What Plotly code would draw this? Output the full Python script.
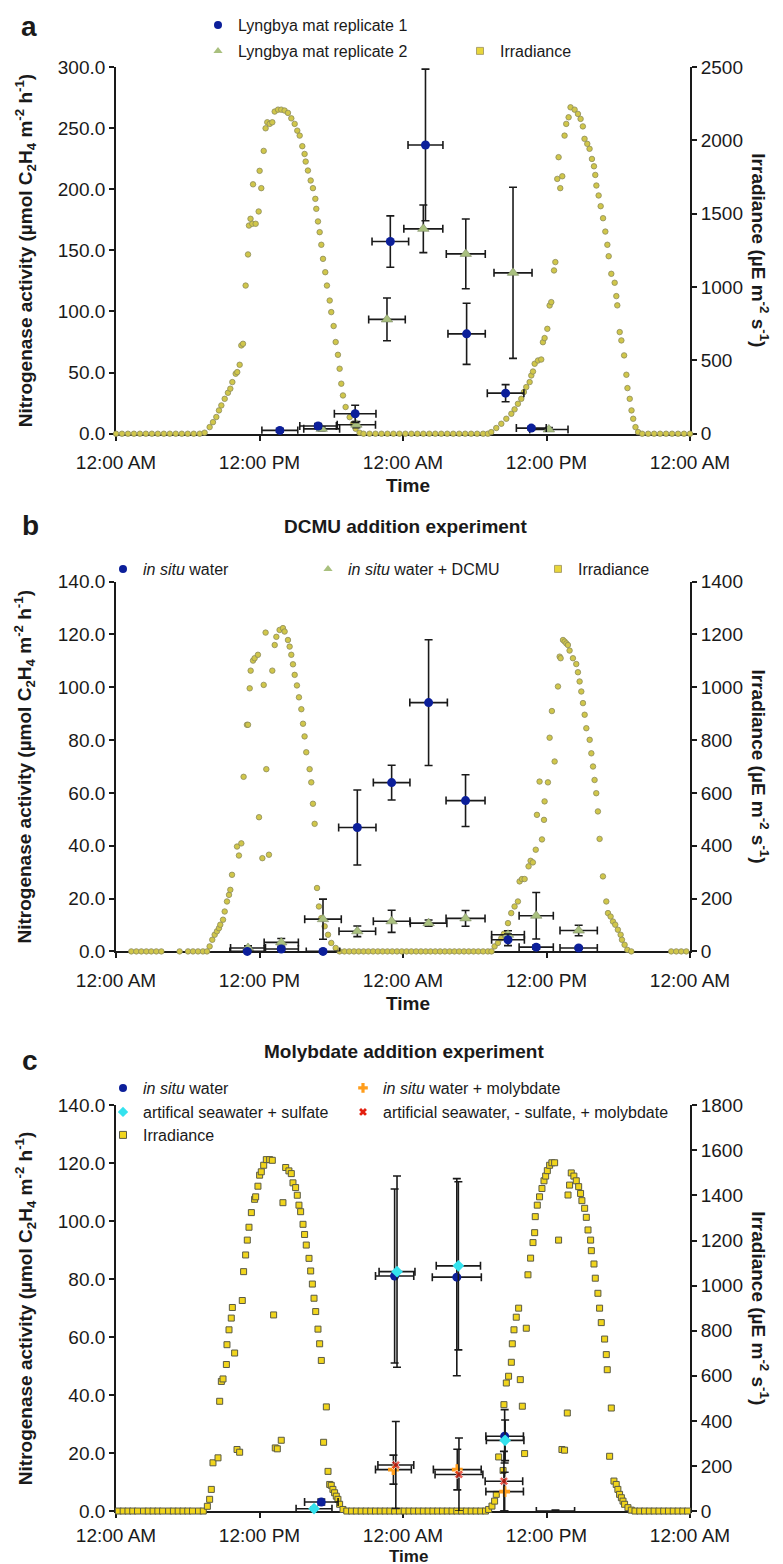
import plotly.graph_objects as go

W, H = 783, 1564
FONT = "Liberation Sans, Arial, sans-serif"
INK = "#1a1a1a"

time_ticks = [0, 12, 24, 36, 48]
time_labels = ["12:00 AM", "12:00 PM", "12:00 AM", "12:00 PM", "12:00 AM"]

# ---------------- panel a ----------------
a_irr_t = [0.0, 0.5, 1.0, 1.5, 2.0, 2.5, 3.0, 3.5, 4.0, 4.5, 5.0, 5.5, 6.0, 6.5, 7.0,
           7.41, 7.83, 8.11, 8.39, 8.61, 8.81, 9.09, 9.36, 9.56, 9.73,
           10.01, 10.14, 10.34, 10.48, 10.62, 10.84, 11.04, 11.12, 11.25, 11.40,
           11.46, 11.68, 11.93, 12.01, 12.15, 12.35, 12.51, 12.65, 12.85, 13.07,
           13.27, 13.55, 13.82, 14.10, 14.38, 14.66, 14.94, 15.16, 15.36, 15.58,
           15.77, 15.86, 16.05, 16.28, 16.47, 16.67, 16.75, 16.89, 17.03, 17.17,
           17.31, 17.50, 17.64, 17.87, 18.00, 18.20, 18.37, 18.56, 18.70, 18.84,
           18.98, 19.20, 19.54, 19.82, 20.04, 20.37,
           20.7, 21.2, 21.7, 22.2, 22.7, 23.2, 23.7, 24.2, 24.7, 25.2, 25.7, 26.2,
           26.7, 27.2, 27.7, 28.2, 28.7, 29.2, 29.7, 30.2, 30.7, 31.1,
           31.38, 31.80, 32.22, 32.64, 33.06, 33.33, 33.61, 33.89, 34.11, 34.31,
           34.59, 34.73, 34.87, 35.01, 35.29, 35.56, 35.70, 35.84, 36.07, 36.26,
           36.40, 36.63, 36.74, 36.90, 37.01, 37.15, 37.32, 37.51, 37.65, 37.85,
           38.01, 38.35, 38.63, 38.85, 39.04, 39.18, 39.41, 39.60, 39.80, 39.97,
           40.08, 40.17, 40.36, 40.53, 40.73, 40.92, 41.09, 41.20, 41.42, 41.70,
           41.84, 41.92, 42.12, 42.26, 42.49, 42.68, 42.77, 42.96, 43.11, 43.25,
           43.44, 43.66,
           44.0, 44.5, 45.0, 45.5, 46.0, 46.5, 47.0, 47.5, 48.0]
a_irr_v = [0, 0, 0, 0, 0, 0, 0, 0, 0, 0, 0, 0, 0, 0, 0,
           7, 45, 79, 114, 159, 193, 238, 279, 307, 352,
           409, 420, 470, 602, 613, 1010, 1222, 1419, 1465, 1431,
           1700, 1431, 1515, 1792, 1674, 1928, 2082, 2123, 2112, 2123,
           2196, 2209, 2209, 2203, 2187, 2150, 2112, 2066, 2032, 1960,
           1907, 1855, 1794, 1726, 1674, 1601, 1533, 1447, 1374, 1288,
           1192, 1101, 1010, 908, 829, 734, 625, 538, 443, 341,
           261, 182, 113, 68, 34, 7,
           0, 0, 0, 0, 0, 0, 0, 0, 0, 0, 0, 0,
           0, 0, 0, 0, 0, 0, 0, 0, 0, 0,
           11, 39, 68, 102, 136, 166, 204, 238, 284, 318,
           352, 397, 424, 477, 499, 506, 624, 652, 715, 874,
           897, 1113, 1170, 1737, 1885, 1674, 1755, 2032, 2112, 2157,
           2225, 2209, 2180, 2146, 2095, 2010, 1976, 1942, 1873, 1823,
           1764, 1692, 1624, 1551, 1469, 1378, 1288, 1210, 1090, 1029,
           938, 875, 693, 636, 534, 402, 311, 238, 159, 102,
           45, 11,
           0, 0, 0, 0, 0, 0, 0, 0, 0]

a_rep1_t = [13.7, 16.9, 20.0, 22.94, 25.88, 29.32, 32.58, 34.73]
a_rep1_v = [2.7, 6.3, 16.3, 157.2, 236.2, 81.7, 33.2, 4.6]
a_rep1_ey = [1.5, 2.0, 7.0, 21.0, 62.0, 25.0, 7.0, 1.5]
a_rep1_ex = [1.5, 1.53, 1.74, 1.53, 1.46, 1.56, 1.53, 1.25]

a_rep2_t = [13.6, 17.2, 20.1, 22.66, 25.7, 29.25, 33.2, 36.2]
a_rep2_v = [-3.5, 4.0, 7.4, 93.5, 167.6, 147.1, 131.6, 3.5]
a_rep2_ey = [2.5, 1.5, 2.5, 17.5, 19.5, 28.5, 70.0, 1.5]
a_rep2_ex = [1.6, 1.5, 1.6, 1.53, 1.63, 1.63, 1.59, 1.6]

# ---------------- panel b ----------------
b_irr_t = [1.28, 1.70, 2.12, 2.54, 2.95, 3.37, 3.79, 5.32, 6.02, 6.44, 6.86, 7.27, 7.61,
           7.83, 8.05, 8.25, 8.44, 8.61, 8.72, 8.95, 9.09, 9.28, 9.45,
           9.56, 9.70, 10.12, 10.28, 10.48, 10.67, 10.95, 11.04, 11.18, 11.26,
           11.46, 11.59, 11.87, 11.96, 12.24, 12.35, 12.51, 12.57, 12.79, 13.07,
           13.27, 13.41, 13.68, 13.96, 14.10, 14.38, 14.52, 14.66, 14.80, 14.94,
           15.13, 15.30, 15.50, 15.64, 15.77, 15.91, 16.19, 16.33, 16.47, 16.61,
           16.81, 16.97, 17.17, 17.45, 17.73, 18.00, 18.37, 18.70,
           19.1, 19.5, 19.9, 20.3, 20.7, 21.1, 21.5, 21.9, 22.3, 22.7, 23.1, 23.5,
           23.9, 24.3, 24.7, 25.1, 25.5, 25.9, 26.3, 26.7, 27.1, 27.5, 27.9, 28.3,
           28.7, 29.1, 29.5, 29.9, 30.3, 30.7, 31.1, 31.4,
           31.66, 31.94, 32.22, 32.44, 32.78, 33.05, 33.33, 33.61, 33.75, 33.95,
           34.17, 34.50, 34.67, 34.86, 35.10, 35.20, 35.42, 35.62, 35.79, 35.84,
           36.12, 36.26, 36.45, 36.68, 36.96, 37.10, 37.18, 37.38, 37.52, 37.66,
           37.79, 37.93, 38.21, 38.49, 38.63, 38.77, 38.91, 39.05, 39.19, 39.33,
           39.61, 39.75, 39.89, 40.02, 40.16, 40.30, 40.44, 40.72, 41.00, 41.14,
           41.36, 41.56, 41.75, 41.97, 42.20, 42.31, 42.53, 42.76, 43.09,
           46.43, 46.85, 47.27, 47.69]
b_irr_v = [0, 0, 0, 0, 0, 0, 0, 0, 0, 0, 0, 0, 0,
           19, 44, 63, 76, 88, 101, 120, 151, 189, 214,
           233, 290, 397, 363, 409, 661, 858, 858, 996, 1063,
           1101, 1110, 1123, 508, 353, 1009, 1207, 690, 366, 1063,
           1160, 1191, 1217, 1224, 1211, 1179, 1154, 1123, 1087, 1047,
           1007, 962, 917, 862, 814, 754, 690, 640, 559, 483,
           240, 170, 126, 95, 63, 32, 13, 0,
           0, 0, 0, 0, 0, 0, 0, 0, 0, 0, 0, 0,
           0, 0, 0, 0, 0, 0, 0, 0, 0, 0, 0, 0,
           0, 0, 0, 0, 0, 0, 0, 0,
           19, 32, 50, 67, 107, 145, 170, 189, 265, 274,
           274, 322, 343, 337, 385, 517, 643, 424, 498, 568,
           640, 809, 910, 719, 1003, 1116, 1110, 1179, 1173, 1166,
           1160, 1139, 1110, 1088, 1057, 1022, 984, 940, 896, 845,
           801, 750, 700, 649, 599, 530, 426, 284, 189, 145,
           132, 113, 101, 82, 63, 44, 25, 6, 0,
           0, 0, 0, 0]

b_situ_t = [10.98, 13.82, 17.31, 20.18, 23.05, 26.14, 29.23, 32.78, 35.14, 38.69]
b_situ_v = [0.0, 0.9, 0.0, 46.9, 63.9, 94.2, 57.1, 4.4, 1.6, 1.3]
b_situ_ey = [0.5, 0.5, 0.5, 14.2, 6.6, 23.8, 9.8, 2.2, 0.8, 0.5]
b_situ_ex = [1.46, 1.43, 1.4, 1.56, 1.53, 1.57, 1.63, 1.37, 1.43, 1.56]

b_dcmu_t = [11.04, 13.82, 17.31, 20.18, 23.05, 26.14, 29.23, 32.78, 35.14, 38.69]
b_dcmu_v = [1.3, 3.4, 12.2, 7.6, 11.4, 10.7, 12.5, 6.3, 13.5, 7.9]
b_dcmu_ey = [0.8, 1.5, 7.6, 2.0, 4.2, 1.2, 3.0, 1.5, 8.8, 2.0]
b_dcmu_ex = [1.46, 1.43, 1.53, 1.53, 1.53, 1.53, 1.63, 1.37, 1.43, 1.56]

# ---------------- panel c ----------------
c_irr_t = [0.2, 0.6, 1.0, 1.4, 1.8, 2.3, 2.7, 3.1, 3.5, 3.9, 4.4, 4.8, 5.2, 5.6, 6.0, 6.4, 6.9, 7.3,
           7.64, 7.83, 7.97, 8.11, 8.53, 8.67, 8.81, 8.95, 9.23, 9.28,
           9.45, 9.64, 9.73, 9.92, 10.12, 10.34, 10.56, 10.67, 10.84, 10.98,
           11.12, 11.32, 11.59, 11.68, 11.87, 12.01, 12.15, 12.35, 12.57, 12.85,
           13.07, 13.18, 13.32, 13.49, 13.82, 13.96, 14.19, 14.46, 14.66, 14.80,
           15.02, 15.16, 15.30, 15.44, 15.64, 15.77, 15.91, 16.14, 16.28, 16.42,
           16.56, 16.70, 16.89, 17.03, 17.17, 17.36, 17.59, 17.73, 17.87, 18.00,
           18.14, 18.28, 18.42, 18.56, 18.70, 18.98,
           19.3, 19.7, 20.1, 20.5, 20.9, 21.3, 21.7, 22.1, 22.5, 22.9, 23.3, 23.7,
           24.1, 24.5, 24.9, 25.3, 25.7, 26.1, 26.5, 26.9, 27.3, 27.7, 28.1, 28.5,
           28.9, 29.3, 29.7, 30.1, 30.5, 30.9,
           31.16, 31.44, 31.66, 31.80, 32.00, 32.37, 32.44, 32.64, 32.83, 33.06,
           33.14, 33.28, 33.47, 33.67, 33.81, 33.98, 34.17, 34.31, 34.45, 34.67,
           34.87, 35.01, 35.06, 35.23, 35.42, 35.62, 35.79, 35.93, 36.07, 36.26,
           36.45, 36.68, 37.01, 37.29, 37.51, 37.74, 37.80, 37.93, 38.07, 38.29,
           38.49, 38.69, 38.85, 38.96, 39.19, 39.33, 39.47, 39.69, 39.75, 39.97,
           40.08, 40.30, 40.44, 40.58, 40.86, 41.00, 41.08, 41.28, 41.42, 41.64,
           41.83, 41.97, 42.11, 42.26, 42.40, 42.53, 42.81, 43.09,
           43.4, 43.8, 44.2, 44.6, 45.0, 45.4, 45.8, 46.2, 46.6, 47.0, 47.4, 47.8]
c_irr_v = [0, 0, 0, 0, 0, 0, 0, 0, 0, 0, 0, 0, 0, 0, 0, 0, 0, 0,
           21, 52, 96, 214, 236, 487, 575, 586, 650, 738,
           804, 856, 903, 701, 273, 261, 934, 1062, 1136, 1202,
           1259, 1324, 1383, 1394, 1441, 1490, 1505, 1534, 1559, 1559,
           1556, 870, 280, 276, 314, 1368, 1524, 1509, 1497, 1456,
           1435, 1401, 1357, 1328, 1272, 1227, 1180, 1121, 1065, 1007,
           944, 885, 807, 742, 668, 305, 462, 176, 118, 114,
           96, 81, 66, 52, 30, 7,
           0, 0, 0, 0, 0, 0, 0, 0, 0, 0, 0, 0,
           0, 0, 0, 0, 0, 0, 0, 0, 0, 0, 0, 0,
           0, 0, 0, 0, 0, 0,
           7, 22, 44, 74, 240, 180, 472, 568, 598, 660,
           742, 804, 860, 900, 583, 465, 255, 811, 1048, 1122,
           1191, 1235, 1306, 1357, 1394, 1431, 1465, 1486, 1510, 1534,
           1545, 1545, 1202, 273, 270, 435, 1402, 1446, 1500, 1486,
           1465, 1439, 1409, 1377, 1343, 1303, 1247, 1202, 1155, 1096,
           1033, 966, 900, 836, 763, 694, 627, 243, 457, 133,
           118, 96, 74, 59, 44, 30, 15, 4,
           0, 0, 0, 0, 0, 0, 0, 0, 0, 0, 0, 0]

c_situ_t = [17.17, 23.3, 28.5, 32.5]
c_situ_v = [3.1, 81.1, 80.7, 25.8]
c_situ_ey = [1.0, 30.0, 34.0, 9.2]
c_situ_ex = [1.4, 1.6, 2.05, 1.57]

c_sulf_t = [16.56, 23.5, 28.63, 32.54]
c_sulf_v = [0.8, 82.6, 84.6, 24.4]
c_sulf_ey = [0.5, 33.0, 29.0, 7.0]
c_sulf_ex = [1.5, 1.5, 1.85, 1.57]

c_molyb_t = [23.2, 28.54, 32.5]
c_molyb_v = [14.3, 14.3, 6.7]
c_molyb_ey = [5.0, 7.0, 6.7]
c_molyb_ex = [1.5, 2.0, 1.57]

c_nosulf_t = [23.4, 28.68, 32.44, 36.75]
c_nosulf_v = [15.9, 12.6, 10.3, 0.0]
c_nosulf_ey = [15.0, 12.6, 10.3, 0.3]
c_nosulf_ex = [1.5, 2.0, 1.57, 1.6]

for t, v in [(a_irr_t, a_irr_v), (b_irr_t, b_irr_v), (c_irr_t, c_irr_v)]:
    assert len(t) == len(v), (len(t), len(v))

# ---------------- geometry (pixels) ----------------
X_L, X_R = 108, 682
PANELS = [(58, 425), (573, 943), (1097, 1503)]
TICK_STANDOFF = [6, 6, 1]
LDX = 40  # legend text offset inside legend box


def xp(px):
    return px / W


def yp(py):
    return 1 - py / H


fig = go.Figure()

BLUE = "#0c1f9a"
TRI = "#a9c07e"
IRR_AB = dict(symbol="circle", size=5.5, color="#d0c64a", line=dict(color="#8d8c5c", width=0.8))
IRR_C = dict(symbol="square", size=6, color="#f1d51c", line=dict(color="#5a5a44", width=1))


def err(arr):
    return dict(type="data", array=arr, color=INK, thickness=1.6, width=4)


def add_points(t, v, ex, ey, marker, ax, ay, name):
    fig.add_trace(go.Scatter(x=t, y=v, mode="markers", marker=marker, name=name,
                             error_x=err(ex), error_y=err(ey), xaxis=ax, yaxis=ay,
                             cliponaxis=False, showlegend=False))


def add_irr(t, v, marker, ax, ay):
    fig.add_trace(go.Scatter(x=t, y=v, mode="markers", marker=marker, xaxis=ax, yaxis=ay,
                             cliponaxis=False, showlegend=False, name="Irradiance"))


legend_layouts = {}
legend_count = [0]


def add_legend_entry(name, marker, text_px, row_py):
    legend_count[0] += 1
    key = "legend" if legend_count[0] == 1 else f"legend{legend_count[0]}"
    fig.add_trace(go.Scatter(x=[None], y=[None], mode="markers", marker=marker, name=name,
                             showlegend=True, legend=key, xaxis="x", yaxis="y"))
    legend_layouts[key] = dict(x=xp(text_px - LDX), y=yp(row_py), xanchor="left", yanchor="middle",
                               bgcolor="rgba(0,0,0,0)", borderwidth=0,
                               font=dict(family=FONT, size=16, color=INK),
                               itemclick=False, itemdoubleclick=False)


# panel a
add_irr(a_irr_t, a_irr_v, IRR_AB, "x", "y")
add_points(a_rep2_t, a_rep2_v, a_rep2_ex, a_rep2_ey,
           dict(symbol="triangle-up", size=10, color=TRI, line=dict(color="#7d8a66", width=0.6)),
           "x", "y2", "Lyngbya mat replicate 2")
add_points(a_rep1_t, a_rep1_v, a_rep1_ex, a_rep1_ey,
           dict(symbol="circle", size=9, color=BLUE), "x", "y2", "Lyngbya mat replicate 1")

# panel b
add_irr(b_irr_t, b_irr_v, IRR_AB, "x2", "y3")
add_points(b_dcmu_t, b_dcmu_v, b_dcmu_ex, b_dcmu_ey,
           dict(symbol="triangle-up", size=10, color=TRI, line=dict(color="#7d8a66", width=0.6)),
           "x2", "y4", "in situ water + DCMU")
add_points(b_situ_t, b_situ_v, b_situ_ex, b_situ_ey,
           dict(symbol="circle", size=9, color=BLUE), "x2", "y4", "in situ water")

# panel c
add_irr(c_irr_t, c_irr_v, IRR_C, "x3", "y5")
add_points(c_situ_t, c_situ_v, c_situ_ex, c_situ_ey,
           dict(symbol="circle", size=9, color=BLUE), "x3", "y6", "in situ water")
add_points(c_sulf_t, c_sulf_v, c_sulf_ex, c_sulf_ey,
           dict(symbol="diamond", size=9, color="#34e2ee"), "x3", "y6", "artifical seawater + sulfate")
add_points(c_molyb_t, c_molyb_v, c_molyb_ex, c_molyb_ey,
           dict(symbol="cross", size=9, color="#ff9d1c"), "x3", "y6", "in situ water + molybdate")
add_points(c_nosulf_t, c_nosulf_v, c_nosulf_ex, c_nosulf_ey,
           dict(symbol="x", size=[8, 8, 8, 0], color="#e3200f"), "x3", "y6",
           "artificial seawater, - sulfate, + molybdate")

# legends
LEG_BLUE = dict(symbol="circle", size=8, color=BLUE)
LEG_TRI = dict(symbol="triangle-up", size=8, color=TRI)
LEG_IRR_AB = dict(symbol="square", size=7, color="#e8d63a", line=dict(color="#9a9060", width=0.8))
LEG_IRR_C = dict(symbol="square", size=7, color="#f1d51c", line=dict(color="#5a5a44", width=1))

add_legend_entry("Lyngbya mat replicate 1", LEG_BLUE, 230, 16)
add_legend_entry("Lyngbya mat replicate 2", LEG_TRI, 230, 43)
add_legend_entry("Irradiance", LEG_IRR_AB, 492, 43)

add_legend_entry("<i>in situ</i> water", LEG_BLUE, 135, 561)
add_legend_entry("<i>in situ</i> water + DCMU", LEG_TRI, 340, 561)
add_legend_entry("Irradiance", LEG_IRR_AB, 570, 561)

add_legend_entry("<i>in situ</i> water", LEG_BLUE, 135, 1080)
add_legend_entry("<i>in situ</i> water + molybdate", dict(symbol="cross", size=8, color="#ff9d1c"), 375, 1080)
add_legend_entry("artifical seawater + sulfate", dict(symbol="diamond", size=8, color="#34e2ee"), 135, 1104)
add_legend_entry("artificial seawater, - sulfate, + molybdate", dict(symbol="x", size=7, color="#e3200f"), 375, 1104)
add_legend_entry("Irradiance", LEG_IRR_C, 135, 1127)

# axes
tickfont = dict(family=FONT, size=19, color=INK)
common = dict(showline=True, linecolor=INK, linewidth=1.8, ticks="outside", tickcolor=INK,
              ticklen=5, tickwidth=1.5, showgrid=False, zeroline=False, tickfont=tickfont,
              fixedrange=True, automargin=False)

left_ranges = [(300, 50), (140, 20), (140, 20)]
right_ranges = [(2500, 500), (1400, 200), (1800, 200)]

layout_axes = {}
for i, (top, bot) in enumerate(PANELS):
    xn = "xaxis" if i == 0 else f"xaxis{i + 1}"
    base = 2 * i + 1
    over = 2 * i + 2
    base_name = "yaxis" if base == 1 else f"yaxis{base}"
    base_ref = "y" if base == 1 else f"y{base}"
    x_ref = "x" if i == 0 else f"x{i + 1}"
    layout_axes[xn] = dict(common, domain=[xp(X_L), xp(X_R)], anchor=base_ref, range=[0, 48],
                           tickmode="array", tickvals=time_ticks, ticktext=time_labels,
                           layer="below traces", ticklabelstandoff=TICK_STANDOFF[i])
    layout_axes[base_name] = dict(common, domain=[yp(bot), yp(top)], anchor=x_ref, side="right",
                                  range=[0, right_ranges[i][0]], dtick=right_ranges[i][1],
                                  tick0=0, layer="below traces")
    layout_axes[f"yaxis{over}"] = dict(common, overlaying=base_ref, anchor=x_ref, side="left",
                                       range=[0, left_ranges[i][0]], dtick=left_ranges[i][1],
                                       tick0=0, tickformat=".1f", layer="below traces")

annotations = []


def note(text, x, y, size, bold=True, angle=0):
    annotations.append(dict(text=f"<b>{text}</b>" if bold else text, x=xp(x), y=yp(y),
                            xref="paper", yref="paper", showarrow=False, textangle=angle,
                            xanchor="center", yanchor="middle", borderpad=0,
                            font=dict(family=FONT, size=size, color=INK)))


note("a", 21, 18, 28)
note("b", 22, 517, 28)
note("c", 22, 1052, 28)
note("DCMU addition experiment", 397, 518, 19)
note("Molybdate addition experiment", 396, 1043, 19)

left_title = "Nitrogenase activity (µmol C<sub>2</sub>H<sub>4</sub> m<sup>-2</sup> h<sup>-1</sup>)"
right_title = "Irradiance (µE m<sup>-2</sup> s<sup>-1</sup>)"
time_y = [477, 995, 1548]
for i, (top, bot) in enumerate(PANELS):
    mid = (top + bot) / 2
    note(left_title, 17, mid, 19, angle=-90)
    note(right_title, 752, mid, 19, angle=90)
    note("Time", 400, time_y[i], 17 if i == 2 else 19)

fig.update_layout(
    template="none",
    width=W, height=H, autosize=False,
    margin=dict(l=0, r=0, t=0, b=0),
    paper_bgcolor="white", plot_bgcolor="white",
    font=dict(family=FONT, color=INK),
    annotations=annotations,
    **layout_axes,
    **legend_layouts,
)

fig.write_html("out.html")
